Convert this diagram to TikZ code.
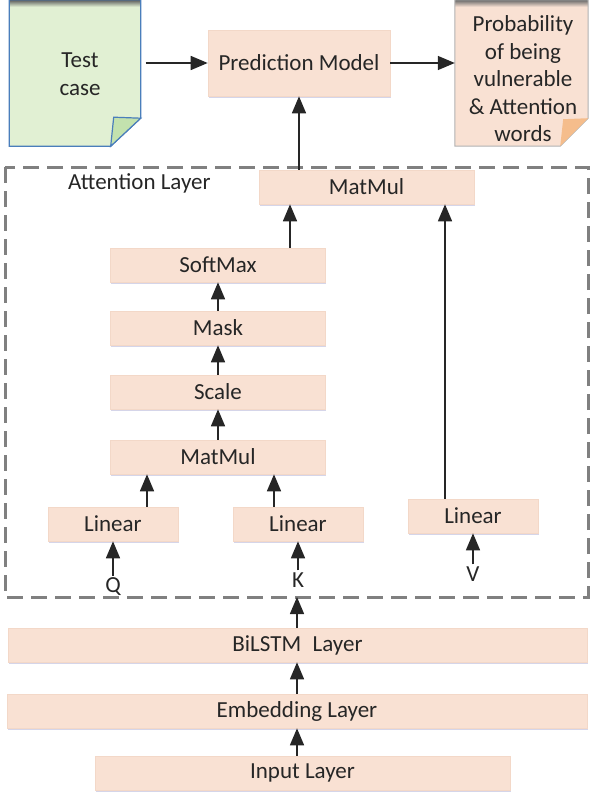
\documentclass[tikz,border=0pt]{standalone}
\usepackage{fontspec}
\setmainfont{Carlito}
\usetikzlibrary{arrows.meta,shadows}

\definecolor{peach}{HTML}{F9E1D3}
\definecolor{peachline}{HTML}{F3D8C8}
\definecolor{testgreen}{HTML}{E1F0D3}
\definecolor{foldgreen}{HTML}{C3E2AE}
\definecolor{noteblue}{HTML}{4A7EBB}
\definecolor{foldorange}{HTML}{F5BD8C}
\definecolor{txt}{HTML}{262626}

\tikzset{
  layer/.style={fill=peach, draw=peachline, line width=0.6pt, minimum height=34pt,
    inner sep=0pt, text=txt, font=\fontsize{23}{28}\selectfont,
    drop shadow={shadow xshift=0.5pt, shadow yshift=-2pt, fill=blue!30!gray, opacity=0.25}},
  flow/.style={-{Triangle[width=14pt,length=17pt]}, line width=1.5pt, black!85},
  tag/.style={inner sep=2pt, text=txt, font=\fontsize{23}{28}\selectfont}
}

\begin{document}
\begin{tikzpicture}[x=1pt,y=-1pt]
  \useasboundingbox (0,0) rectangle (589,797);

  % notes at the top
  \node[minimum width=131pt, minimum height=146pt, inner sep=0pt] (test) at (75,73) {};
  \fill[testgreen] (test.north west) -- (test.north east) -- ([yshift=28pt]test.south east)
    -- ([xshift=-30pt]test.south east) -- (test.south west) -- cycle;
  \shade[top color=black!65, bottom color=testgreen] (test.north west) rectangle ([yshift=-7pt]test.north east);
  \draw[noteblue, line width=1.2pt] (test.north west) -- (test.north east) -- ([yshift=28pt]test.south east)
    -- ([xshift=-30pt]test.south east) -- (test.south west) -- cycle;
  \filldraw[fill=foldgreen, draw=noteblue, line width=1.2pt] ([xshift=-27pt,yshift=29pt]test.south east)
    -- ([yshift=28pt]test.south east) -- ([xshift=-30pt]test.south east) -- cycle;
  \node[tag, align=center] (testtxt) at (80,74) {Test\\case};

  \node[minimum width=133pt, minimum height=146pt, inner sep=0pt] (out) at (521.5,73) {};
  \fill[peach] (out.north west) -- (out.north east) -- ([yshift=28pt]out.south east)
    -- ([xshift=-28pt]out.south east) -- (out.south west) -- cycle;
  \shade[top color=black!60, bottom color=peach] (out.north west) rectangle ([yshift=-7pt]out.north east);
  \draw[gray!60, line width=1pt] (out.north west) -- (out.north east) -- ([yshift=28pt]out.south east)
    -- ([xshift=-28pt]out.south east) -- (out.south west) -- cycle;
  \fill[foldorange] ([xshift=-25pt,yshift=27pt]out.south east)
    -- ([yshift=28pt]out.south east) -- ([xshift=-28pt]out.south east) -- cycle;
  \node[tag, align=center, font=\fontsize{23}{27.5}\selectfont] (outtxt) at (523,79)
    {Probability\\of being\\vulnerable\\\& Attention\\words};

  \node[layer, minimum width=182pt, minimum height=66pt] (pred) at (299,63) {Prediction Model};

  % attention layer
  \draw[gray, line width=3pt, dash pattern=on 16pt off 8pt] (5,167) rectangle (588,597);
  \node[tag, anchor=west] (attn) at (66,183) {Attention Layer};
  \coordinate (attbot) at (297,597);

  \node[layer, minimum width=215pt] (mm2) at (366.5,187) {MatMul};
  \node[layer, minimum width=215pt] (soft) at (218,265) {SoftMax};
  \node[layer, minimum width=215pt] (mask) at (218,328) {Mask};
  \node[layer, minimum width=215pt] (scale) at (218,392) {Scale};
  \node[layer, minimum width=215pt] (mm1) at (218,457) {MatMul};

  \node[layer, minimum width=130pt] (linq) at (113,524) {Linear};
  \node[layer, minimum width=130pt] (link) at (298,524) {Linear};
  \node[layer, minimum width=130pt] (linv) at (473,516) {Linear};

  \node[tag] (q) at (113,587) {Q};
  \node[tag] (k) at (298,580) {K};
  \node[tag] (v) at (473,574) {V};

  % lower layers
  \node[layer, minimum width=579pt] (bilstm) at (297.5,645) {BiLSTM\enspace Layer};
  \node[layer, minimum width=580pt] (embed) at (297,711) {Embedding Layer};
  \node[layer, minimum width=415pt] (input) at (302.5,773) {Input Layer};

  % connectors
  \draw[flow] ([xshift=5pt]pred.west -| test.east) -- (pred.west);
  \draw[flow] (pred.east) -- (pred.east -| out.west);
  \draw[flow] (pred.south |- mm2.north) -- (pred.south);

  \draw[flow] ([xshift=-76.5pt]mm2.south |- soft.north) -- ([xshift=-76.5pt]mm2.south);
  \draw[flow] ([xshift=-28pt]linv.north) -- ([xshift=-28pt]linv.north |- mm2.south);
  \draw[flow] (mask) -- (soft);
  \draw[flow] (scale) -- (mask);
  \draw[flow] (mm1) -- (scale);
  \draw[flow] ([xshift=34pt]linq.north) -- ([xshift=34pt]linq.north |- mm1.south);
  \draw[flow] ([xshift=-24pt]link.north) -- ([xshift=-24pt]link.north |- mm1.south);

  \draw[flow] (q) -- (linq);
  \draw[flow] (k) -- (link);
  \draw[flow] (v) -- (linv);

  \draw[flow] (bilstm.north -| attbot) -- (attbot);
  \draw[flow] (embed.north -| attbot) -- (bilstm.south -| attbot);
  \draw[flow] (input.north -| attbot) -- (embed.south -| attbot);
\end{tikzpicture}
\end{document}
